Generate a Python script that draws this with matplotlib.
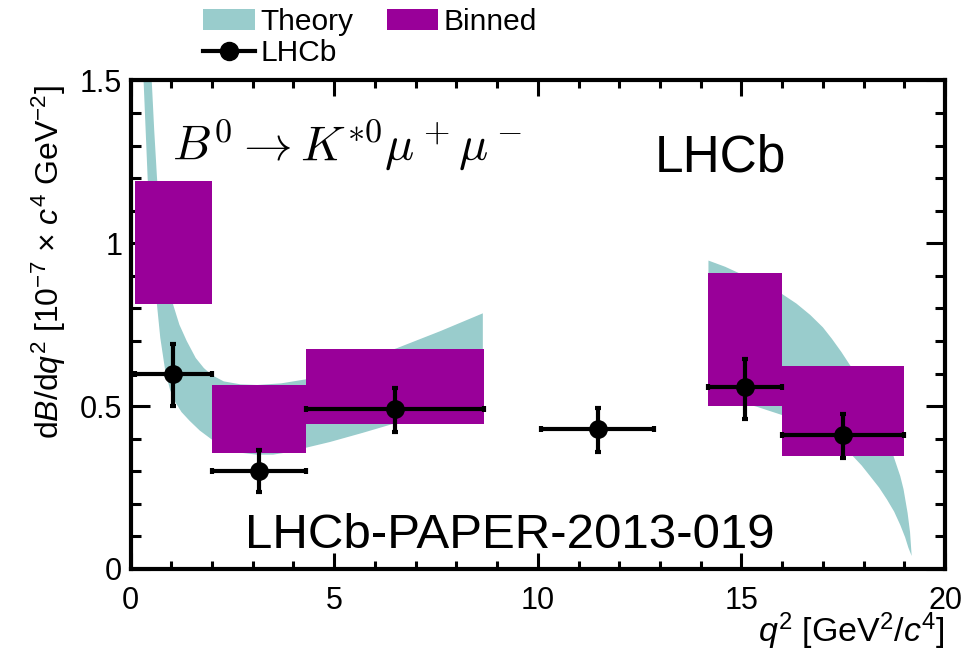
import matplotlib
matplotlib.use("Agg")
import matplotlib.pyplot as plt
import matplotlib.patches as mpatches
from matplotlib.lines import Line2D
from matplotlib.ticker import MultipleLocator
import numpy as np

plt.rcParams.update({
    "font.family": ["Liberation Sans", "DejaVu Sans"],
    "mathtext.fontset": "custom",
    "mathtext.rm": "Liberation Sans",
    "mathtext.it": "Liberation Sans:italic",
    "mathtext.bf": "Liberation Sans:bold",
    "font.size": 21,
})

TEAL = "#99cccc"
PURPLE = "#990099"

# ── data (dB/dq^2 in 1e-7 c^4 GeV^-2) ─────────────────────────────────────────
bin_lo = [0.1, 2.0, 4.3, 10.09, 14.18, 16.0]
bin_hi = [2.0, 4.3, 8.68, 12.86, 16.0, 19.0]
lhcb_val = [0.60, 0.30, 0.49, 0.43, 0.56, 0.41]
lhcb_err_dn = [0.10, 0.065, 0.07, 0.07, 0.10, 0.07]
lhcb_err_up = [0.09, 0.065, 0.065, 0.065, 0.085, 0.065]

# binned theory (no bin 10.09-12.86)
binned_lo = [0.1, 2.0, 4.3, 14.18, 16.0]
binned_hi = [2.0, 4.3, 8.68, 16.0, 19.0]
binned_min = [0.814, 0.357, 0.445, 0.501, 0.348]
binned_max = [1.191, 0.565, 0.675, 0.908, 0.623]

# theory band, low q^2 region (upper and lower edges)
low_up_q2 = [0.47, 0.52, 0.58, 0.65, 0.75, 0.85, 0.95, 1.05, 1.2, 1.38, 1.6, 1.8,
             2.0, 2.29, 2.7, 3.11, 3.7, 4.29, 5.0, 5.8, 6.54, 7.6, 8.65]
low_up_y = [1.70, 1.50, 1.35, 1.20, 1.05, 0.95, 0.87, 0.81, 0.75, 0.70, 0.648, 0.617,
            0.595, 0.576, 0.567, 0.565, 0.57, 0.582, 0.612, 0.645, 0.678, 0.73, 0.785]
low_dn_q2 = [0.26, 0.32, 0.37, 0.42, 0.5, 0.58, 0.65, 0.73, 0.85, 0.97, 1.1, 1.25,
             1.45, 1.7, 2.0, 2.35, 2.7, 3.1, 3.5, 3.9, 4.3, 4.9, 5.7, 6.46, 7.5, 8.65]
low_dn_y = [1.70, 1.50, 1.35, 1.20, 1.03, 0.90, 0.81, 0.71, 0.61, 0.55, 0.512, 0.482,
            0.455, 0.425, 0.397, 0.372, 0.357, 0.351, 0.351, 0.359, 0.372, 0.39,
            0.418, 0.446, 0.481, 0.52]

# theory band, high q^2 region
high_up_q2 = [14.19, 14.6, 15.0, 15.5, 15.99, 16.35, 16.69, 17.0, 17.22, 17.45, 17.67,
              17.95, 18.2, 18.45, 18.73, 18.9, 18.98, 19.08, 19.14, 19.18]
high_up_y = [0.947, 0.928, 0.905, 0.876, 0.845, 0.815, 0.78, 0.742, 0.707, 0.667, 0.625,
             0.566, 0.507, 0.435, 0.348, 0.285, 0.245, 0.172, 0.113, 0.04]
high_dn_q2 = [14.19, 14.8, 15.38, 15.99, 16.4, 16.8, 17.25, 17.71, 17.95, 18.16, 18.38,
              18.57, 18.75, 18.9, 19.02, 19.1, 19.18]
high_dn_y = [0.535, 0.518, 0.498, 0.473, 0.45, 0.425, 0.39, 0.35, 0.318, 0.285, 0.25,
             0.214, 0.176, 0.135, 0.097, 0.065, 0.04]

# ── plot ──────────────────────────────────────────────────────────────────────
fig = plt.figure(figsize=(9.62, 6.58), dpi=100)
ax = fig.add_axes([0.1357, 0.1353, 0.8467, 0.7424])

for uq, uy, dq, dy in [(low_up_q2, low_up_y, low_dn_q2, low_dn_y),
                       (high_up_q2, high_up_y, high_dn_q2, high_dn_y)]:
    ax.fill(uq + dq[::-1], uy + dy[::-1], color=TEAL, lw=0, zorder=1)

bl = np.array(binned_lo)
ax.bar(bl, np.array(binned_max) - np.array(binned_min), width=np.array(binned_hi) - bl,
       bottom=binned_min, align="edge", color=PURPLE, lw=0, zorder=2)

lo = np.array(bin_lo)
hi = np.array(bin_hi)
xc = (lo + hi) / 2
ax.errorbar(xc, lhcb_val, xerr=(hi - lo) / 2, yerr=[lhcb_err_dn, lhcb_err_up],
            fmt="o", color="black", ms=12.5, elinewidth=3, capsize=2.4, capthick=3,
            zorder=3)

ax.set_xlim(0, 20)
ax.set_ylim(0, 1.5)
ax.xaxis.set_major_locator(MultipleLocator(5))
ax.xaxis.set_minor_locator(MultipleLocator(1))
ax.yaxis.set_major_locator(MultipleLocator(0.5))
ax.yaxis.set_minor_locator(MultipleLocator(0.1))
ax.set_yticks([0, 0.5, 1, 1.5], ["0", "0.5", "1", "1.5"])
ax.tick_params(which="both", direction="in", top=True, right=True, width=2.2,
               labelsize=22)
ax.tick_params(axis="y", which="major", length=14, pad=6)
ax.tick_params(axis="y", which="minor", length=7)
ax.tick_params(axis="x", which="major", length=11.5, pad=12)
ax.tick_params(axis="x", which="minor", length=5.8)
for s in ax.spines.values():
    s.set_linewidth(3)

ax.set_ylabel(r"d$B$/d$q^2$ [10$^{-7}$ $\times$ $c^4$ GeV$^{-2}$]", loc="top",
              fontsize=23)
ax.yaxis.set_label_coords(-0.077, 0.99)
ax.set_xlabel(r"$q^2$ [GeV$^2$/$c^4$]", loc="right", fontsize=24.5)
ax.xaxis.set_label_coords(1.0, -0.085)

ax.text(0.051, 0.835, r"$B^0 \to K^{*0}\mu^+\mu^-$", transform=ax.transAxes,
        math_fontfamily="cm", fontsize=35, va="baseline")
ax.text(0.644, 0.813, "LHCb", transform=ax.transAxes, fontsize=37, va="baseline")
ax.text(0.141, 0.043, "LHCb-PAPER-2013-019", transform=ax.transAxes, fontsize=35.5,
        va="baseline")

h_theory = mpatches.Patch(color=TEAL, lw=0)
h_binned = mpatches.Patch(color=PURPLE, lw=0)
h_lhcb = Line2D([], [], color="black", lw=3, marker="o", ms=13)
fig.legend([h_theory, h_lhcb, h_binned], ["Theory", "LHCb", "Binned"], ncol=2,
           loc="upper left", bbox_to_anchor=(0.196, 1.01), frameon=False,
           borderpad=0, handlelength=1.72, handleheight=0.7, handletextpad=0.2,
           columnspacing=1.1, labelspacing=0.1, fontsize=21.5)

fig.savefig("out.png", dpi=100)
